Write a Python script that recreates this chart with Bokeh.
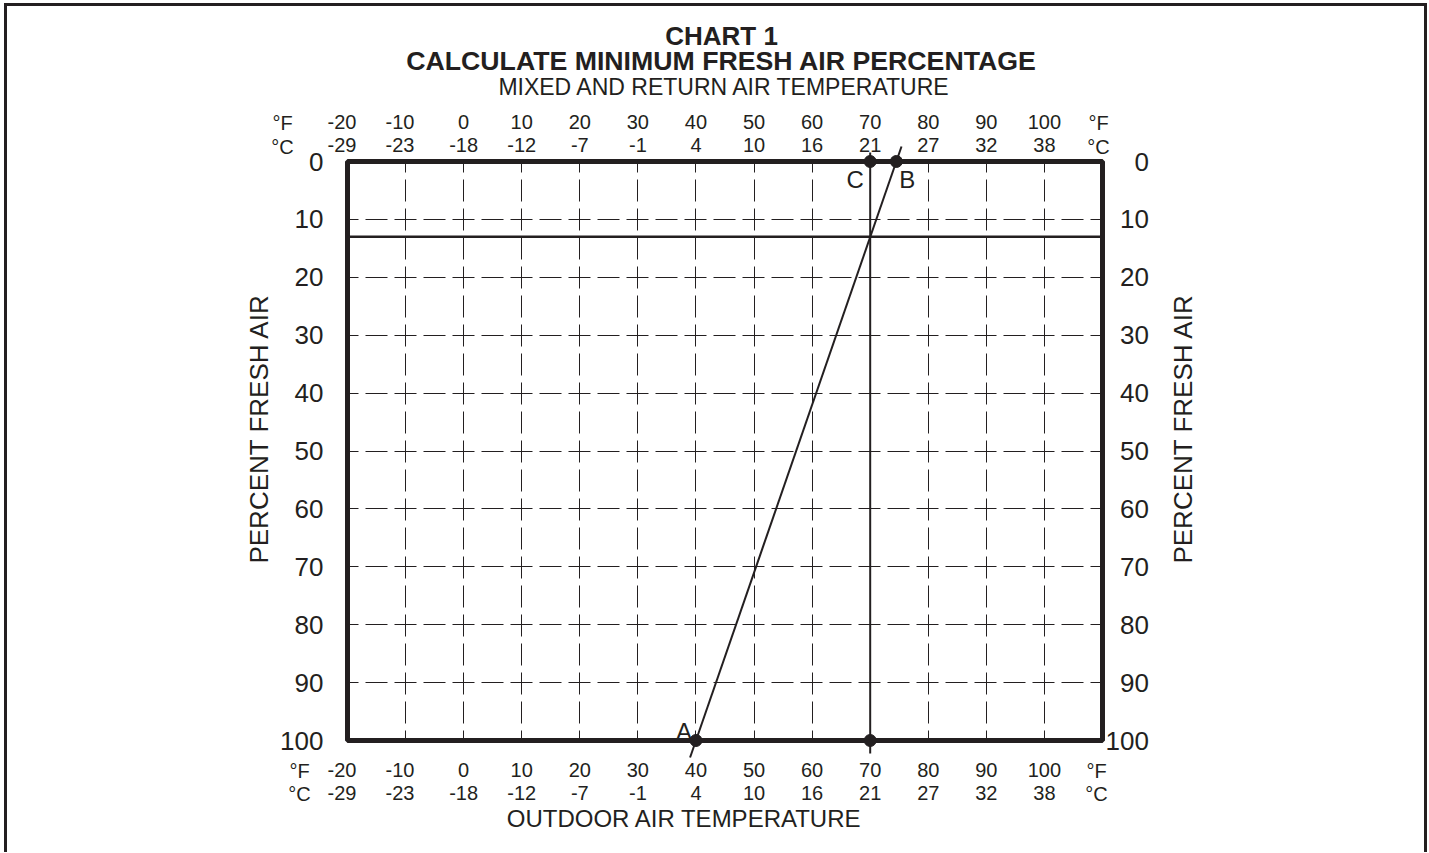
import math
from bokeh.plotting import figure
from bokeh.models import (Range1d, LinearAxis, FixedTicker, Span, Grid,
                          ColumnDataSource)
from bokeh.embed import file_html
from bokeh.resources import INLINE
from bokeh.core.properties import value

# ---------------- data ----------------
temp_f_ticks = [-20, -10, 0, 10, 20, 30, 40, 50, 60, 70, 80, 90, 100]
temp_c_labels = ["-29", "-23", "-18", "-12", "-7", "-1", "4", "10", "16",
                 "21", "27", "32", "38"]
pct_ticks = [0, 10, 20, 30, 40, 50, 60, 70, 80, 90, 100]
grid_temp_f = [-10, 0, 10, 20, 30, 40, 50, 60, 70, 80, 90, 100]
grid_pct = [10, 20, 30, 40, 50, 60, 70, 80, 90]
outdoor_temp_f = 40      # point A (outdoor air, 100 % fresh air)
return_temp_f = 74.5     # point B (return air, 0 % fresh air)
mixed_temp_f = 70        # point C (mixed air)
fresh_air_pct = 13       # resulting minimum fresh air percentage
point_names = ["A", "B", "C"]
unit_names = ["\u00b0F", "\u00b0C"]

# ---------------- style ----------------
INK = "#231f20"
FONT = "Liberation Sans"
W, H = 1428, 852
ML, MT = 347, 161
FW, FH = 755, 579
MR, MB = W - ML - FW, H - MT - FH
X0, X1 = -20, 110
DIGIT_PAD = "\u00a0\u00a0"   # two no-break spaces = one digit width


def fx(px):
    return X0 + (px - ML) * (X1 - X0) / FW


def fy(py):
    return (py - MT) * 100.0 / FH


p = figure(width=W, height=H, x_range=Range1d(X0, X1), y_range=Range1d(100, 0),
           x_axis_location=None, y_axis_location=None, toolbar_location=None,
           output_backend="svg", min_border_left=ML, min_border_right=MR,
           min_border_top=MT, min_border_bottom=MB)
p.background_fill_color = "white"
p.border_fill_color = "white"
p.outline_line_color = INK
p.outline_line_width = 5

# remove default grids, add dashed grids
p.center = [r for r in p.center if not isinstance(r, Grid)]
for dim, ticks in ((0, grid_temp_f), (1, grid_pct)):
    g = Grid(dimension=dim, ticker=FixedTicker(ticks=ticks), grid_line_color=INK,
             grid_line_width=1, grid_line_dash="22 7", grid_line_dash_offset=11)
    p.add_layout(g, "center")


def mk_axis(ticks, overrides, size, standoff):
    return LinearAxis(ticker=FixedTicker(ticks=ticks), major_label_overrides=overrides,
                      axis_line_color=None, major_tick_line_color=None,
                      minor_tick_line_color=None, major_tick_out=0, major_tick_in=0,
                      major_label_standoff=standoff, major_label_text_font=FONT,
                      major_label_text_font_size=size, major_label_text_color=INK)


def nudge(t, s):
    # the original sets the negative-degree columns slightly to the left
    return s + DIGIT_PAD if t < 0 else s


f_over = {t: nudge(t, str(t)) for t in temp_f_ticks}
c_over = {t: nudge(t, c) for t, c in zip(temp_f_ticks, temp_c_labels)}

top_c = mk_axis(temp_f_ticks, c_over, "20px", 6)
top_f = mk_axis(temp_f_ticks, f_over, "20px", -2)
top_f.axis_label = "MIXED AND RETURN AIR TEMPERATURE"
top_f.axis_label_text_font = FONT
top_f.axis_label_text_font_size = "23px"
top_f.axis_label_text_font_style = "normal"
top_f.axis_label_text_color = INK
top_f.axis_label_standoff = 8
p.add_layout(top_c, "above")
p.add_layout(top_f, "above")

bot_f = mk_axis(temp_f_ticks, f_over, "20px", 18)
bot_c = mk_axis(temp_f_ticks, c_over, "20px", -2)
p.add_layout(bot_f, "below")
p.add_layout(bot_c, "below")

left_pct = mk_axis(pct_ticks, {t: str(t) for t in pct_ticks}, "26px", 24)
right_over = {t: (DIGIT_PAD * (3 - len(str(t)))) + str(t) for t in pct_ticks}
right_pct = mk_axis(pct_ticks, right_over, "26px", 3)
p.add_layout(left_pct, "left")
p.add_layout(right_pct, "right")

# result line (minimum fresh air)
p.add_layout(Span(location=fresh_air_pct, dimension="width", line_color=INK,
                  line_width=2.5))


# construction line A-B (extended slightly past the box)
def line_x(pct):
    return outdoor_temp_f + (return_temp_f - outdoor_temp_f) * (100 - pct) / 100.0


ab_pct = [fy(757), fy(146)]
p.line(x=[line_x(v) for v in ab_pct], y=ab_pct, line_color=INK, line_width=2,
       level="overlay")
# mixed air temperature vertical
p.line(x=[mixed_temp_f, mixed_temp_f], y=[fy(152), fy(753)], line_color=INK,
       line_width=2, level="overlay")

pts = ColumnDataSource(dict(x=[outdoor_temp_f, return_temp_f, mixed_temp_f, mixed_temp_f],
                            y=[100, 0, 0, 100]))
p.scatter("x", "y", source=pts, size=12, color=INK, level="overlay")

lbl = ColumnDataSource(dict(x=[outdoor_temp_f, return_temp_f, mixed_temp_f],
                            y=[100, 0, 0], text=point_names,
                            dx=[-12, 11, -15], dy=[-9, 18, 18]))
p.text("x", "y", text="text", source=lbl, x_offset="dx", y_offset="dy",
       text_font=value(FONT), text_font_size="24px", text_color=INK,
       text_align="center", text_baseline="middle", level="overlay")


def txt(x, y, s, size, bold=False, angle=0.0):
    p.text(x=[x], y=[y], text=[s], text_font=value(FONT), text_font_size=size,
           text_font_style="bold" if bold else "normal", text_color=INK,
           text_align="center", text_baseline="middle", angle=angle, level="overlay")


# unit labels
for ux, uy in [(282, 122), (1098, 122)]:
    txt(fx(ux), fy(uy), unit_names[0], "20px")
    txt(fx(ux), fy(uy + 24), unit_names[1], "20px")
for ux in (299, 1096):
    txt(fx(ux), fy(770), unit_names[0], "20px")
    txt(fx(ux), fy(793), unit_names[1], "20px")

# titles and axis names
txt(fx(721), fy(35), "CHART 1", "26px", bold=True)
txt(fx(721), fy(60), "CALCULATE MINIMUM FRESH AIR PERCENTAGE", "26.7px", bold=True)
txt(fx(684), fy(818), "OUTDOOR AIR TEMPERATURE", "24px")
for cx in (258, 1182):
    txt(fx(cx), fy(428), "PERCENT FRESH AIR", "26px", angle=math.pi / 2)

# document frame (left, top, right edges)
p.multi_line(xs=[[fx(5), fx(5)], [fx(3.5), fx(1426.5)], [fx(1425), fx(1425)]],
             ys=[[fy(3), fy(H)], [fy(4), fy(4)], [fy(3), fy(H)]],
             line_color=INK, line_width=3, level="overlay")

open("out.html", "w").write(file_html(p, INLINE))
